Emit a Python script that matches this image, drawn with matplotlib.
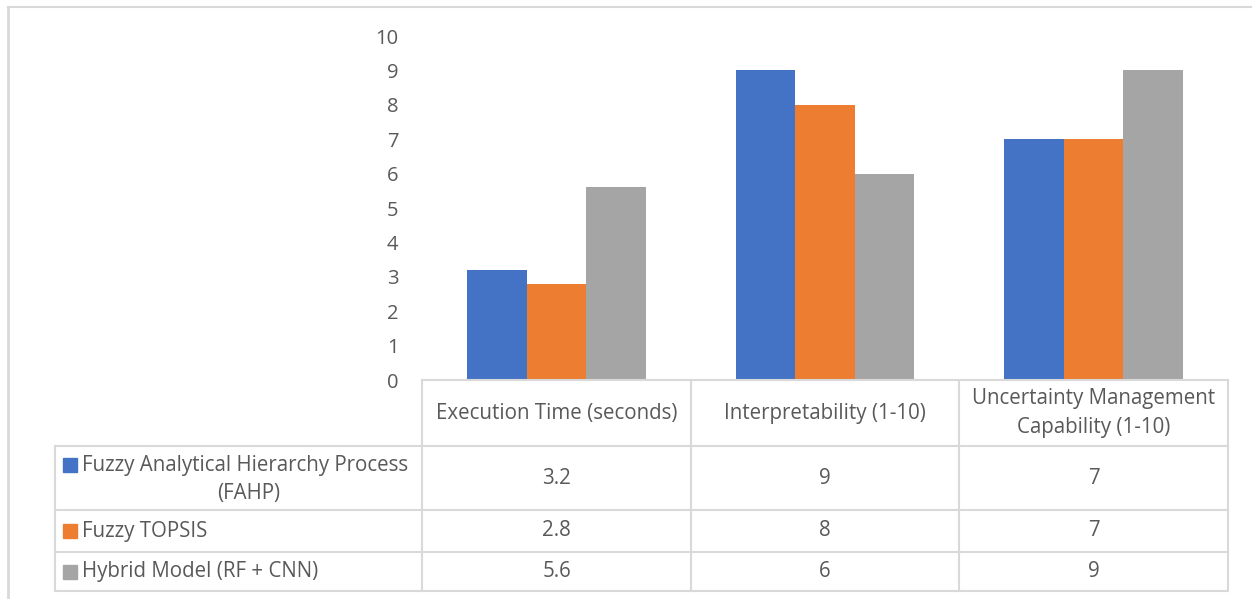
import matplotlib.pyplot as plt
from matplotlib.lines import Line2D
from matplotlib.patches import Rectangle

categories = ["Execution Time (seconds)", "Interpretability (1-10)",
              "Uncertainty Management\nCapability (1-10)"]
series_names = ["Fuzzy Analytical Hierarchy Process\n(FAHP)", "Fuzzy TOPSIS",
                "Hybrid Model (RF + CNN)"]
fahp = [3.2, 9, 7]
topsis = [2.8, 8, 7]
hybrid = [5.6, 6, 9]
yticks = list(range(0, 11))

colors = ["#4472C4", "#ED7D31", "#A5A5A5"]
text_col = "#595959"
grid_col = "#D9D9D9"
plt.rcParams['font.family'] = ['Open Sans', 'DejaVu Sans']

W, H = 1252, 599
fig = plt.figure(figsize=(W / 100, H / 100), dpi=100)


def fx(px):
    return px / W


def fy(py):
    return 1 - py / H


# frame around the chart
fig.add_artist(Line2D([fx(8), fx(1252)], [fy(7), fy(7)], color=grid_col, lw=1.5))
fig.add_artist(Line2D([fx(8), fx(8)], [fy(7), fy(599)], color=grid_col, lw=2))

x0, x1, ytop, ybot = 422, 1228, 36, 380
ax = fig.add_axes([fx(x0), fy(ybot), fx(x1) - fx(x0), fy(ytop) - fy(ybot)])
n = len(categories)
bw = 0.222
for i, (vals, c) in enumerate(zip([fahp, topsis, hybrid], colors)):
    xs = [k + (i - 1) * bw for k in range(n)]
    ax.bar(xs, vals, width=bw, color=c, edgecolor="none", zorder=3)
ax.set_xlim(-0.5, n - 0.5)
ax.set_ylim(0, 10)
ax.set_yticks(yticks)
ax.set_xticks([])
ax.tick_params(axis='y', length=0, pad=17, labelsize=14.5, labelcolor=text_col)
for s in ax.spines.values():
    s.set_visible(False)

# data table below the axis
col_x = [422, 691, 959, 1228]
row_y = [380, 446, 510, 552, 591]
left = 55
lc = dict(color=grid_col, lw=1.5)
fig.add_artist(Line2D([fx(col_x[0]), fx(col_x[-1])], [fy(row_y[0])] * 2, **lc))
for y in row_y[1:]:
    fig.add_artist(Line2D([fx(left), fx(col_x[-1])], [fy(y)] * 2, **lc))
for x in col_x:
    fig.add_artist(Line2D([fx(x)] * 2, [fy(row_y[0]), fy(row_y[-1])], **lc))
fig.add_artist(Line2D([fx(left)] * 2, [fy(row_y[1]), fy(row_y[-1])], **lc))

fs = 14.8
for j, cat in enumerate(categories):
    cx = (col_x[j] + col_x[j + 1]) / 2
    cy = (row_y[0] + row_y[1]) / 2
    fig.text(fx(cx), fy(cy), cat, ha='center', va='center', fontsize=fs,
             color=text_col, linespacing=1.45)

rows = [fahp, topsis, hybrid]
for r, (name, vals, c) in enumerate(zip(series_names, rows, colors)):
    cy = (row_y[r + 1] + row_y[r + 2]) / 2
    if "\n" in name:
        first, second = name.split("\n")
        fig.text(fx(82), fy(cy - 13), first, ha='left', va='center',
                 fontsize=fs, color=text_col)
        fig.text(fx(249), fy(cy + 15), second, ha='center', va='center',
                 fontsize=fs, color=text_col)
        ky = cy - 13
    else:
        fig.text(fx(82), fy(cy), name, ha='left', va='center',
                 fontsize=fs, color=text_col)
        ky = cy
    fig.add_artist(Rectangle((fx(63), fy(ky + 7)), fx(14), fy(0) - fy(14),
                             color=c, transform=fig.transFigure))
    for j, v in enumerate(vals):
        cx = (col_x[j] + col_x[j + 1]) / 2
        fig.text(fx(cx), fy(cy), f"{v:g}", ha='center', va='center',
                 fontsize=fs, color=text_col)

fig.savefig("out.png", dpi=100)
